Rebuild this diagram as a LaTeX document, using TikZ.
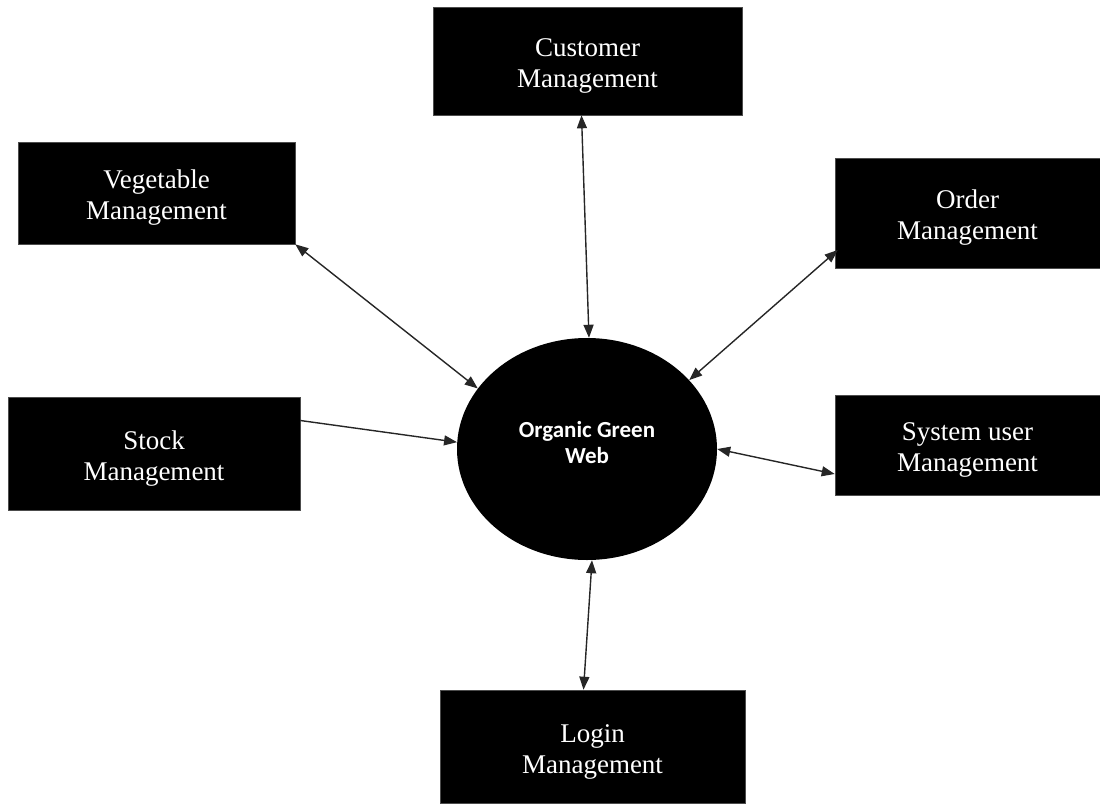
\documentclass[tikz,border=0pt]{standalone}
\usepackage{fontspec}
\setmainfont{Liberation Serif}
\newfontfamily\hubfont{Carlito}
\usetikzlibrary{shapes.geometric,arrows.meta}
\begin{document}
\begin{tikzpicture}[x=1pt,y=-1pt,
  module/.style={rectangle,fill=black,draw=black!70,line width=0.6pt,inner sep=0pt},
  modtext/.style={text=white,align=center,inner sep=0pt,yshift=-5pt,
    font=\fontsize{27}{31}\selectfont},
  hub/.style={ellipse,fill=black,inner sep=0pt,
    minimum width=260pt,minimum height=222pt},
  hubtext/.style={text=white,align=center,inner sep=0pt,yshift=6pt,
    font=\hubfont\bfseries\fontsize{23}{26}\selectfont},
  link/.style={line width=1.4pt,black!85,
    {Triangle[length=13pt,width=10pt]}-{Triangle[length=13pt,width=10pt]}},
  onelink/.style={line width=1.4pt,black!85,-{Triangle[length=13pt,width=10pt]}}]
\useasboundingbox (0,0) rectangle (1100,803);

% central system
\node[hub,label={[hubtext]center:Organic Green\\Web}] (ogw) at (587,449) {};

% surrounding modules
\node[module,minimum width=309pt,minimum height=108pt,
  label={[modtext]center:Customer\\Management}] (cust) at (587.5,61) {};
\node[module,minimum width=277pt,minimum height=102pt,
  label={[modtext]center:Vegetable\\Management}] (veg) at (156.5,193) {};
\node[module,minimum width=265pt,minimum height=110pt,
  label={[modtext]center:Order\\Management}] (ord) at (967.5,213) {};
\node[module,minimum width=292pt,minimum height=113pt,
  label={[modtext]center:Stock\\Management}] (stk) at (154,453.5) {};
\node[module,minimum width=265pt,minimum height=100pt,
  label={[modtext]center:System user\\Management}] (sys) at (967.5,445) {};
\node[module,minimum width=305pt,minimum height=113pt,
  label={[modtext]center:Login\\Management}] (log) at (592.5,746.5) {};

% connectors
\draw[link] ([xshift=-6pt]cust.south) -- ([xshift=2pt]ogw.north);
\draw[link] (veg.south east) -- (ogw.151);
\draw[link] ([yshift=-37pt,xshift=3pt]ord.west) -- (ogw.34);
\draw[onelink] ([yshift=33pt]stk.east) -- (ogw.177);
\draw[link] (ogw.east) -- ([yshift=-29pt]sys.west);
\draw[link] ([xshift=5pt]ogw.south) -- ([xshift=-9pt]log.north);
\end{tikzpicture}
\end{document}
